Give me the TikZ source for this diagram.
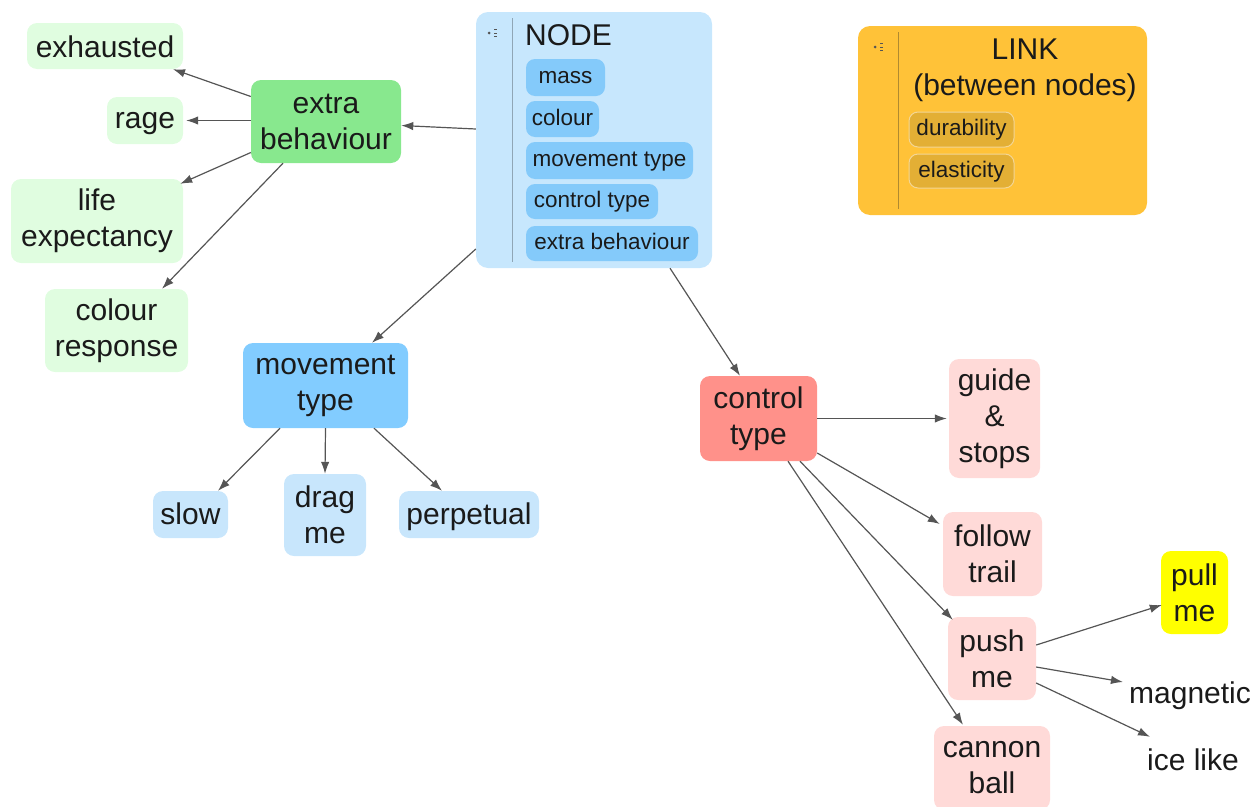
\documentclass[tikz,border=0pt]{standalone}
\usepackage{fontspec}
\setmainfont{Liberation Sans}
\usetikzlibrary{arrows.meta}
\definecolor{txt}{HTML}{1A1A1A}
\definecolor{edge}{HTML}{555555}
\definecolor{nodebg}{HTML}{C7E7FD}
\definecolor{subitem}{HTML}{84CAFA}
\definecolor{mtc}{HTML}{82CCFF}
\definecolor{ltblue}{HTML}{C8E6FC}
\definecolor{linkbg}{HTML}{FFC238}
\definecolor{linkitem}{HTML}{E3AF35}
\definecolor{linkborder}{HTML}{F3D695}
\definecolor{ebc}{HTML}{88E88E}
\definecolor{ltgreen}{HTML}{E0FDE0}
\definecolor{ctc}{HTML}{FF918A}
\definecolor{ltpink}{HTML}{FFDAD8}
\definecolor{pullc}{HTML}{FFFF00}
\definecolor{divider}{HTML}{8FA6B6}
\definecolor{divlink}{HTML}{B08A30}
\newcommand{\bigtxt}{\fontsize{30}{36}\selectfont}
\newcommand{\smalltxt}{\fontsize{22.5}{27}\selectfont}
\tikzset{
  box/.style={rectangle, rounded corners=10pt, inner sep=0pt, align=center,
    font=\bigtxt, text=txt},
  oneline/.style={text height=21.5pt, text depth=6.5pt},
  container/.style={rectangle, rounded corners=12pt, inner sep=0pt},
  item/.style={rectangle, rounded corners=9pt, inner sep=0pt, align=center,
    font=\smalltxt, text=txt, text height=16pt, text depth=4pt},
  plain/.style={inner sep=0pt, font=\bigtxt, text=txt, text height=21.5pt, text depth=6.5pt},
  conn/.style={draw=edge, line width=1.2pt, -{Latex[length=12pt,width=8.5pt]}},
}
\begin{document}
\begin{tikzpicture}[x=1pt,y=-1pt]
\useasboundingbox (0,0) rectangle (1258,806);

% NODE container
\node[container, fill=nodebg, minimum width=236pt, minimum height=256pt] (nodebox) at (594,140) {};
\draw[divider, line width=1pt] (512,18) -- (512,262);
\fill[edge] (489,33) circle (1.5pt);
\draw[edge, line width=1pt] (494,29.5) -- (497,29.5) (494,33) -- (497,33) (494,36.5) -- (497,36.5);
\node[plain, anchor=west] (nodetitle) at (525,38) {NODE};
\node[item, fill=subitem, minimum width=79pt, minimum height=37pt] (imass) at (565.5,77.5) {mass};
\node[item, fill=subitem, minimum width=73pt, minimum height=36pt] (icolour) at (562.5,119) {colour};
\node[item, fill=subitem, minimum width=167pt, minimum height=37pt] (imove) at (609.5,160.5) {movement type};
\node[item, fill=subitem, minimum width=132pt, minimum height=35pt] (icontrol) at (592,201.5) {control type};
\node[item, fill=subitem, minimum width=172pt, minimum height=35pt] (iextra) at (612,243.5) {extra behaviour};

% LINK container
\node[container, fill=linkbg, minimum width=289pt, minimum height=189pt] (linkbox) at (1002.5,120.5) {};
\draw[divlink, line width=1pt] (898,32) -- (898,209);
\fill[edge] (875,47) circle (1.5pt);
\draw[edge, line width=1pt] (880,43.5) -- (883,43.5) (880,47) -- (883,47) (880,50.5) -- (883,50.5);
\node[plain] (linktitle) at (1025,51.5) {LINK};
\node[plain] (linksub) at (1025,87.5) {(between nodes)};
\node[item, fill=linkitem, draw=linkborder, line width=1pt, minimum width=105pt, minimum height=35pt] (idur) at (961.5,129.5) {durability};
\node[item, fill=linkitem, draw=linkborder, line width=1pt, minimum width=105pt, minimum height=34pt] (ielas) at (961.5,171) {elasticity};

% extra behaviour branch
\node[box, fill=ebc, minimum width=150pt, minimum height=83pt] (eb) at (326,121.5) {extra\\behaviour};
\node[box, text height=22pt, text depth=0pt, fill=ltgreen, minimum width=156pt, minimum height=46pt] (exh) at (105,46) {exhausted};
\node[box, oneline, fill=ltgreen, minimum width=76pt, minimum height=47pt] (rage) at (145,120.5) {rage};
\node[box, fill=ltgreen, minimum width=172pt, minimum height=84pt] (life) at (97,221) {life\\expectancy};
\node[box, fill=ltgreen, minimum width=143pt, minimum height=83pt] (cresp) at (116.5,330.5) {colour\\response};

% movement type branch
\node[box, fill=mtc, minimum width=165pt, minimum height=85pt] (mt) at (325.5,385.5) {movement\\type};
\node[box, text height=22pt, text depth=3pt, fill=ltblue, minimum width=75pt, minimum height=47pt] (slow) at (190.5,514.5) {slow};
\node[box, fill=ltblue, minimum width=82pt, minimum height=82pt] (drag) at (325,515) {drag\\me};
\node[box, text height=22pt, text depth=3pt, fill=ltblue, minimum width=140pt, minimum height=47pt] (perp) at (469,514.5) {perpetual};

% control type branch
\node[box, fill=ctc, minimum width=117pt, minimum height=85pt] (ct) at (758.5,418.5) {control\\type};
\node[box, fill=ltpink, minimum width=91pt, minimum height=119pt] (guide) at (994.5,418.5) {guide\\\&\\stops};
\node[box, fill=ltpink, minimum width=99pt, minimum height=84pt] (follow) at (992.5,554) {follow\\trail};
\node[box, fill=ltpink, minimum width=88pt, minimum height=83pt] (push) at (992,658.5) {push\\me};
\node[box, fill=ltpink, minimum width=116pt, minimum height=84pt] (cannon) at (992,768) {cannon\\ball};
\node[box, fill=pullc, minimum width=67pt, minimum height=83pt] (pull) at (1194.5,592.5) {pull\\me};
\node[plain] (magnetic) at (1190,695.5) {magnetic};
\node[plain] (ice) at (1193,762.5) {ice like};

% connectors
\draw[conn] ([yshift=11pt]nodebox.west) -- ([yshift=-4pt]eb.east);
\draw[conn] ([yshift=25pt]eb.west) -- ([xshift=68pt]exh.south);
\draw[conn] ([yshift=1pt]eb.west) -- ([xshift=3pt]rage.east);
\draw[conn] ([yshift=-31pt]eb.west) -- ([xshift=-3pt,yshift=-5pt]life.north east);
\draw[conn] ([xshift=-43pt]eb.south) -- ([xshift=45.5pt]cresp.north);

\draw[conn] ([yshift=-109pt]nodebox.west) -- ([xshift=46.5pt]mt.north);
\draw[conn] ([xshift=-45.5pt]mt.south) -- ([xshift=27.5pt]slow.north);
\draw[conn] (mt.south) -- (drag.north);
\draw[conn] ([xshift=48.5pt]mt.south) -- ([xshift=-27pt]perp.north);

\draw[conn] ([xshift=76pt]nodebox.south) -- ([xshift=-18.5pt]ct.north);
\draw[conn] (ct.east) -- ([xshift=-2pt]guide.west);
\draw[conn] ([yshift=-34.5pt]ct.east) -- ([xshift=-3pt,yshift=30pt]follow.west);
\draw[conn] ([xshift=41.5pt]ct.south) -- ([xshift=5pt,yshift=-3pt]push.north west);
\draw[conn] ([xshift=29.5pt]ct.south) -- ([xshift=-29pt,yshift=1pt]cannon.north);

\draw[conn] ([yshift=13.5pt]push.east) -- ([xshift=1pt,yshift=-12.5pt]pull.west);
\draw[conn] ([yshift=-8.5pt]push.east) -- ([xshift=-6pt,yshift=13.5pt]magnetic.west);
\draw[conn] ([yshift=-24.5pt]push.east) -- ([xshift=-43pt,yshift=11.5pt]ice.north);
\end{tikzpicture}
\end{document}
